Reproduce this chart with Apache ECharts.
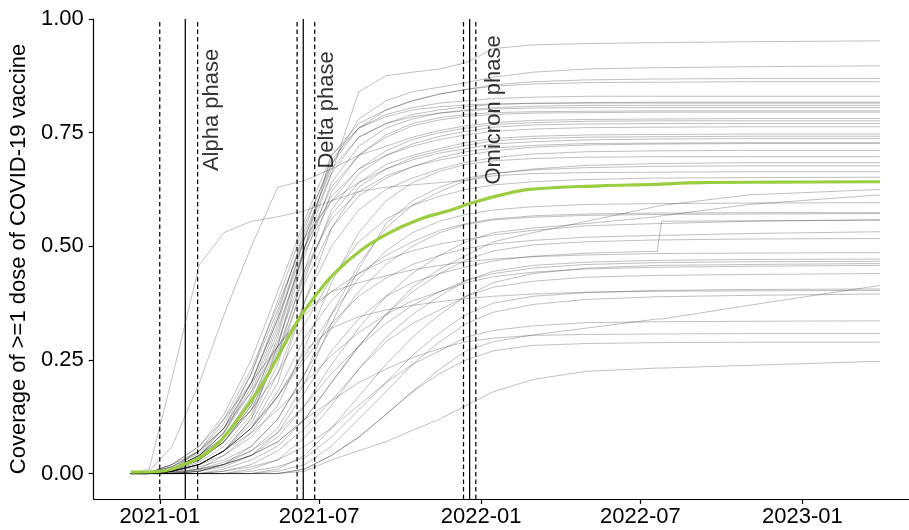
<!DOCTYPE html>
<html>
<head>
<meta charset="utf-8">
<script src="https://cdn.jsdelivr.net/npm/echarts@6/dist/echarts.min.js"></script>
<style>
html,body{margin:0;padding:0;background:#fff;}
#chart{width:909px;height:530px;}
</style>
</head>
<body>
<div id="chart"></div>
<script>
// ---- shared sampling dates for the country curves ----
const dates = ['2020-11-29','2020-12-20','2021-01-15','2021-02-15','2021-03-15','2021-04-15','2021-05-15','2021-06-15','2021-07-15','2021-08-15','2021-09-15','2021-10-15','2021-11-15','2021-12-15','2022-01-15','2022-03-01','2022-05-01','2022-07-20','2022-07-25','2022-11-01','2023-03-30'];

// ---- country coverage curves (share with >=1 dose) ----
const cov01 = [0,0,0.005,0.02,0.05,0.12,0.28,0.5,0.66,0.84,0.875,0.883,0.89,0.904,0.935,0.943,0.946,0.948,0.948,0.95,0.952];
const cov02 = [0,0,0.01,0.04,0.09,0.2,0.34,0.52,0.68,0.78,0.82,0.84,0.85,0.86,0.872,0.883,0.89,0.893,0.893,0.895,0.897];
const cov03 = [0,0.002,0.02,0.05,0.1,0.22,0.38,0.55,0.68,0.76,0.8,0.82,0.835,0.845,0.855,0.862,0.866,0.868,0.868,0.869,0.869];
const cov04 = [0,0,0.005,0.03,0.07,0.15,0.3,0.5,0.7,0.77,0.8,0.82,0.835,0.845,0.852,0.857,0.86,0.861,0.861,0.862,0.862];
const cov05 = [0,0.002,0.02,0.06,0.13,0.25,0.4,0.56,0.7,0.76,0.79,0.805,0.815,0.82,0.825,0.828,0.83,0.83,0.83,0.83,0.83];
const cov06 = [0,0,0.01,0.04,0.09,0.19,0.33,0.52,0.66,0.74,0.77,0.79,0.8,0.807,0.812,0.815,0.816,0.817,0.817,0.817,0.817];
const cov07 = [0,0.002,0.015,0.045,0.1,0.2,0.35,0.54,0.69,0.76,0.785,0.8,0.807,0.811,0.813,0.814,0.815,0.815,0.815,0.815,0.815];
const cov08 = [0,0,0.01,0.03,0.07,0.15,0.28,0.48,0.64,0.72,0.76,0.78,0.793,0.8,0.805,0.808,0.81,0.81,0.81,0.81,0.81];
const cov09 = [0,0.002,0.015,0.05,0.11,0.22,0.36,0.53,0.67,0.74,0.77,0.785,0.793,0.798,0.802,0.804,0.805,0.805,0.805,0.805,0.805];
const cov10 = [0,0,0.005,0.025,0.06,0.13,0.26,0.45,0.62,0.7,0.745,0.77,0.783,0.79,0.794,0.796,0.797,0.798,0.798,0.798,0.798];
const cov11 = [0,0,0.01,0.035,0.08,0.17,0.31,0.5,0.63,0.7,0.74,0.765,0.778,0.786,0.79,0.793,0.794,0.795,0.795,0.795,0.795];
const cov12 = [0,0.005,0.06,0.2,0.35,0.5,0.63,0.645,0.67,0.7,0.72,0.74,0.755,0.765,0.772,0.777,0.779,0.78,0.78,0.781,0.781];
const cov13 = [0,0,0.01,0.04,0.09,0.18,0.32,0.49,0.6,0.67,0.71,0.735,0.75,0.76,0.768,0.772,0.775,0.776,0.776,0.776,0.776];
const cov14 = [0,0,0.005,0.02,0.05,0.12,0.24,0.43,0.58,0.66,0.7,0.725,0.742,0.753,0.762,0.767,0.769,0.77,0.77,0.77,0.77];
const cov15 = [0,0.002,0.015,0.05,0.1,0.2,0.34,0.5,0.61,0.67,0.7,0.72,0.735,0.745,0.753,0.758,0.761,0.762,0.762,0.763,0.763];
const cov16 = [0,0,0.01,0.03,0.07,0.14,0.27,0.44,0.57,0.64,0.68,0.7,0.715,0.728,0.737,0.742,0.745,0.746,0.746,0.747,0.747];
const cov17 = [0,0,0.005,0.02,0.05,0.1,0.2,0.38,0.54,0.63,0.67,0.695,0.71,0.722,0.732,0.737,0.74,0.741,0.741,0.742,0.742];
const cov18 = [0,0.002,0.02,0.06,0.12,0.23,0.37,0.52,0.6,0.64,0.67,0.69,0.705,0.715,0.725,0.73,0.734,0.736,0.736,0.737,0.737];
const cov19 = [0,0,0.005,0.03,0.07,0.14,0.26,0.42,0.54,0.61,0.65,0.675,0.695,0.708,0.716,0.722,0.726,0.727,0.727,0.728,0.728];
const cov20 = [0,0,0.01,0.04,0.08,0.16,0.29,0.45,0.56,0.62,0.655,0.675,0.69,0.7,0.71,0.718,0.723,0.725,0.725,0.726,0.726];
const cov21 = [0,0,0.005,0.02,0.05,0.11,0.22,0.38,0.5,0.58,0.625,0.65,0.67,0.685,0.695,0.703,0.708,0.71,0.71,0.711,0.711];
const cov22 = [0,0,0.005,0.02,0.04,0.08,0.15,0.28,0.42,0.53,0.6,0.64,0.665,0.68,0.688,0.693,0.696,0.697,0.697,0.697,0.697];
const cov23 = [0,0,0.005,0.015,0.03,0.06,0.12,0.22,0.35,0.46,0.54,0.59,0.62,0.645,0.66,0.67,0.678,0.682,0.682,0.684,0.684];
const cov24 = [0,0,0.003,0.01,0.025,0.05,0.1,0.2,0.33,0.45,0.55,0.6,0.63,0.65,0.66,0.668,0.673,0.676,0.676,0.677,0.677];
const cov25 = [0,0.01,0.21,0.46,0.53,0.555,0.565,0.578,0.6,0.62,0.63,0.635,0.64,0.645,0.655,0.66,0.662,0.663,0.663,0.664,0.664];
const cov26 = [0,0,0.01,0.04,0.08,0.14,0.22,0.33,0.43,0.51,0.56,0.59,0.61,0.625,0.635,0.642,0.647,0.65,0.65,0.651,0.652];
const cov27 = [0,0,0.003,0.01,0.02,0.04,0.07,0.12,0.2,0.28,0.35,0.41,0.45,0.48,0.51,0.53,0.555,0.588,0.59,0.613,0.625];
const cov28 = [0,0,0.002,0.008,0.02,0.04,0.08,0.15,0.24,0.32,0.39,0.44,0.48,0.51,0.53,0.54,0.55,0.565,0.567,0.592,0.613];
const cov29 = [0,0,0.005,0.02,0.05,0.1,0.17,0.26,0.35,0.43,0.49,0.53,0.555,0.57,0.58,0.587,0.592,0.594,0.594,0.595,0.596];
const cov30 = [0,0,0.005,0.02,0.05,0.1,0.18,0.3,0.38,0.44,0.48,0.51,0.535,0.55,0.56,0.567,0.571,0.573,0.573,0.574,0.574];
const cov31 = [0,0,0,0.005,0.02,0.06,0.12,0.22,0.32,0.4,0.46,0.5,0.53,0.548,0.558,0.564,0.568,0.57,0.57,0.571,0.572];
const cov32 = [0,0,0.01,0.05,0.12,0.2,0.28,0.35,0.4,0.44,0.47,0.49,0.505,0.515,0.525,0.535,0.545,0.55,0.55,0.555,0.559];
const cov33 = [0,0,0,0.005,0.015,0.04,0.09,0.18,0.27,0.34,0.39,0.42,0.44,0.455,0.468,0.478,0.485,0.489,0.555,0.556,0.557];
const cov34 = [0,0,0.005,0.02,0.05,0.1,0.17,0.25,0.33,0.39,0.43,0.46,0.48,0.495,0.505,0.513,0.52,0.524,0.524,0.528,0.532];
const cov35 = [0,0,0,0,0.01,0.03,0.06,0.12,0.2,0.28,0.35,0.4,0.44,0.47,0.49,0.503,0.51,0.514,0.514,0.516,0.517];
const cov36 = [0,0,0.01,0.04,0.1,0.18,0.28,0.36,0.4,0.42,0.435,0.448,0.458,0.466,0.472,0.477,0.481,0.484,0.484,0.485,0.486];
const cov37 = [0,0,0,0,0,0.01,0.03,0.08,0.15,0.23,0.3,0.35,0.39,0.425,0.445,0.458,0.465,0.469,0.469,0.471,0.472];
const cov38 = [0,0,0,0.005,0.02,0.05,0.09,0.15,0.22,0.28,0.33,0.37,0.4,0.425,0.44,0.452,0.46,0.464,0.464,0.466,0.467];
const cov39 = [0,0,0,0,0,0,0.01,0.04,0.1,0.17,0.24,0.3,0.35,0.39,0.42,0.44,0.452,0.458,0.458,0.46,0.462];
const cov40 = [0,0,0.005,0.02,0.05,0.09,0.14,0.2,0.26,0.31,0.35,0.38,0.4,0.42,0.433,0.443,0.45,0.454,0.454,0.456,0.458];
const cov41 = [0,0,0,0,0.005,0.02,0.05,0.1,0.16,0.23,0.29,0.33,0.36,0.39,0.41,0.423,0.432,0.436,0.436,0.438,0.44];
const cov42 = [0,0,0,0,0,0,0,0.01,0.04,0.08,0.13,0.18,0.23,0.27,0.29,0.305,0.32,0.34,0.34,0.37,0.414];
const cov43 = [0,0,0,0,0,0.005,0.015,0.035,0.08,0.14,0.2,0.26,0.31,0.35,0.375,0.39,0.398,0.403,0.403,0.405,0.406];
const cov44 = [0,0,0,0.01,0.04,0.09,0.17,0.27,0.32,0.345,0.36,0.37,0.378,0.385,0.39,0.395,0.399,0.401,0.401,0.402,0.403];
const cov45 = [0,0,0,0,0,0,0.005,0.02,0.06,0.12,0.18,0.24,0.29,0.33,0.355,0.372,0.383,0.389,0.389,0.392,0.395];
const cov46 = [0,0,0,0,0.005,0.015,0.03,0.06,0.1,0.15,0.2,0.24,0.27,0.3,0.315,0.325,0.332,0.334,0.334,0.335,0.336];
const cov47 = [0,0,0,0.005,0.02,0.04,0.07,0.12,0.16,0.2,0.23,0.255,0.275,0.29,0.298,0.304,0.306,0.307,0.307,0.308,0.308];
const cov48 = [0,0,0,0,0,0,0,0.01,0.04,0.08,0.13,0.18,0.22,0.25,0.27,0.282,0.286,0.288,0.288,0.289,0.289];
const cov49 = [0,0,0,0,0,0,0,0.005,0.03,0.05,0.07,0.095,0.12,0.15,0.18,0.207,0.225,0.232,0.232,0.238,0.247];

const countryCurves = [cov01,cov02,cov03,cov04,cov05,cov06,cov07,cov08,cov09,cov10,cov11,cov12,cov13,cov14,cov15,cov16,cov17,cov18,cov19,cov20,cov21,cov22,cov23,cov24,cov25,cov26,cov27,cov28,cov29,cov30,cov31,cov32,cov33,cov34,cov35,cov36,cov37,cov38,cov39,cov40,cov41,cov42,cov43,cov44,cov45,cov46,cov47,cov48,cov49];

// ---- smoothed average (green) ----
const meanDates = ['2020-11-29','2021-01-03','2021-01-31','2021-02-13','2021-03-08','2021-04-07','2021-04-30','2021-05-19','2021-06-07','2021-06-26','2021-07-18','2021-08-18','2021-09-17','2021-10-21','2021-11-28','2021-12-21','2022-01-24','2022-02-25','2022-05-16','2022-07-15','2022-09-07','2022-12-02','2023-03-30'];
const meanValues = [0.003,0.005,0.022,0.033,0.066,0.139,0.205,0.271,0.337,0.389,0.44,0.492,0.528,0.558,0.58,0.595,0.613,0.625,0.633,0.636,0.64,0.641,0.642];

// ---- phase markers ----
const phaseNames = ['Alpha phase','Delta phase','Omicron phase'];
const phaseDashStart = ['2021-01-01','2021-06-06','2021-12-12'];
const phaseSolid = ['2021-01-30','2021-06-13','2021-12-19'];
const phaseDashEnd = ['2021-02-13','2021-06-26','2021-12-26'];
const phaseLabelX = ['2021-03-01','2021-07-10','2022-01-16'];
const phaseLabelY = 0.8;

// ---- axes ----
const xTickLabels = ['2021-01','2021-07','2022-01','2022-07','2023-01'];
const yTicks = [0, 0.25, 0.5, 0.75, 1];
const xRange = ['2020-10-18','2023-05-02'];
const yRange = [-0.056, 1];
const yTitle = 'Coverage of >=1 dose of COVID-19 vaccine';

const t = s => { const p = s.split('-').map(Number); return Date.UTC(p[0], p[1]-1, p[2] || 1); };
const xTickVals = xTickLabels.map(t);
const FONT = 'Liberation Sans, Arial, Helvetica, sans-serif';
const FS = 22;

const series = [];
countryCurves.forEach((vals, i) => {
  series.push({
    type: 'line', name: 'c' + i, silent: true, showSymbol: false, symbol: 'none',
    data: dates.map((d, k) => [t(d), vals[k]]),
    lineStyle: { color: 'rgba(0,0,0,0.25)', width: 1 },
    z: 2
  });
});
function vline(d, dashed) {
  series.push({
    type: 'line', silent: true, showSymbol: false, symbol: 'none',
    data: [[t(d), yRange[0]], [t(d), yRange[1]]],
    lineStyle: { color: '#000', width: 1.25, type: dashed ? [4.5, 3] : 'solid' },
    z: 3
  });
}
phaseDashStart.forEach(d => vline(d, true));
phaseSolid.forEach(d => vline(d, false));
phaseDashEnd.forEach(d => vline(d, true));
series.push({
  type: 'line', silent: true, showSymbol: false, symbol: 'none', smooth: 0.4,
  data: meanDates.map((d, k) => [t(d), meanValues[k]]),
  lineStyle: { color: '#9ace40', width: 3.2 },
  z: 4
});
series.push({
  type: 'scatter', silent: true, symbolSize: 0,
  data: phaseNames.map((n, i) => ({ name: n, value: [t(phaseLabelX[i]), phaseLabelY] })),
  label: { show: true, formatter: '{b}', rotate: 90, position: 'inside', align: 'center', verticalAlign: 'middle',
           fontSize: FS, color: '#000', fontFamily: FONT },
  z: 5
});

const chart = echarts.init(document.getElementById('chart'), null, { renderer: 'canvas' });
chart.setOption({
  animation: false,
  backgroundColor: '#fff',
  grid: { left: 92.7, right: 0, top: 19, bottom: 31 },
  xAxis: {
    type: 'value', min: t(xRange[0]), max: t(xRange[1]),
    axisLine: { onZero: false, lineStyle: { color: '#000', width: 1.2 } },
    axisTick: { show: true, length: 5, customValues: xTickVals, lineStyle: { color: '#000', width: 1.2 } },
    axisLabel: { customValues: xTickVals, fontSize: FS, color: '#000', fontFamily: FONT, margin: 7,
      formatter: (v) => { const i = xTickVals.indexOf(v); return i >= 0 ? xTickLabels[i] : ''; } },
    splitLine: { show: false }
  },
  yAxis: {
    type: 'value', min: yRange[0], max: yRange[1],
    name: yTitle, nameLocation: 'middle', nameGap: 53, nameRotate: 90,
    nameTextStyle: { fontSize: FS, color: '#000', fontFamily: FONT },
    axisLine: { show: true, onZero: false, lineStyle: { color: '#000', width: 1.2 } },
    axisTick: { show: true, length: 5, customValues: yTicks, lineStyle: { color: '#000', width: 1.2 } },
    axisLabel: { customValues: yTicks, fontSize: FS, color: '#000', fontFamily: FONT, margin: 10,
      formatter: (v) => Number(v).toFixed(2) },
    splitLine: { show: false }
  },
  series: series
});
</script>
</body>
</html>
